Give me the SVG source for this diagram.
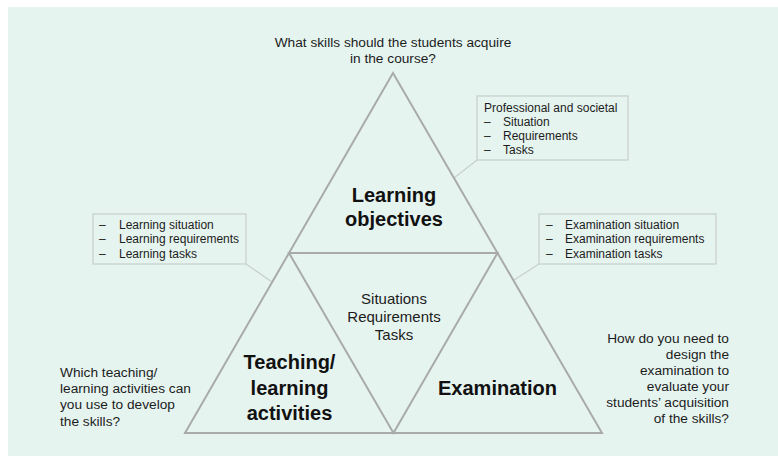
<svg xmlns="http://www.w3.org/2000/svg" width="778" height="456" viewBox="0 0 778 456">
  <style>
    text { font-family: "Liberation Sans", Arial, sans-serif; fill: #1c1c1c; }
    .q { font-size: 13.7px; }
    .box-text { font-size: 12px; }
    .mid { font-size: 15px; text-anchor: middle; }
    .title { font-size: 20px; font-weight: bold; text-anchor: middle; fill: #111; }
    .tri { fill: none; stroke: #a9abaa; stroke-width: 2; stroke-linejoin: miter; }
    .box { fill: #e6f4f0; stroke: #c6cecb; stroke-width: 1.2; }
    .link { stroke: #c6cecb; stroke-width: 1.1; fill: none; }
  </style>

  <!-- page -->
  <rect x="0" y="0" width="778" height="456" fill="#ffffff"/>
  <rect x="8" y="7" width="770" height="449" fill="#e6f4f0"/>

  <!-- guiding questions -->
  <g id="question-objectives">
    <text class="q" x="393" y="47" text-anchor="middle">What skills should the students acquire</text>
    <text class="q" x="393" y="63" text-anchor="middle">in the course?</text>
  </g>
  <g id="question-teaching">
    <text class="q" x="60" y="377">Which teaching/</text>
    <text class="q" x="60" y="393">learning activities can</text>
    <text class="q" x="60" y="409">you use to develop</text>
    <text class="q" x="60" y="426">the skills?</text>
  </g>
  <g id="question-examination" text-anchor="end">
    <text class="q" x="729" y="343">How do you need to</text>
    <text class="q" x="729" y="359">design the</text>
    <text class="q" x="729" y="375">examination to</text>
    <text class="q" x="729" y="391">evaluate your</text>
    <text class="q" x="729" y="407">students’ acquisition</text>
    <text class="q" x="729" y="423">of the skills?</text>
  </g>

  <!-- callout leader lines -->
  <g id="connectors">
    <line class="link" x1="477" y1="160" x2="454" y2="178"/>
    <line class="link" x1="246" y1="264" x2="272" y2="282"/>
    <line class="link" x1="539" y1="264" x2="514" y2="280"/>
  </g>

  <!-- triangle outline and inner split -->
  <g id="triangle">
    <polygon class="tri" points="393,73 185,433 602,433"/>
    <polygon class="tri" points="289,253 497.5,253 393.5,433"/>
  </g>

  <g id="learning-objectives">
    <text class="title" x="394" y="202">Learning</text>
    <text class="title" x="394" y="226">objectives</text>
  </g>
  <g id="centre">
    <text class="mid" x="394" y="304">Situations</text>
    <text class="mid" x="394" y="322">Requirements</text>
    <text class="mid" x="394" y="340">Tasks</text>
  </g>
  <g id="teaching-activities">
    <text class="title" x="289.5" y="369">Teaching/</text>
    <text class="title" x="289.5" y="394.5">learning</text>
    <text class="title" x="289.5" y="420">activities</text>
  </g>
  <g id="examination">
    <text class="title" x="497.5" y="395">Examination</text>
  </g>

  <!-- callout boxes -->
  <g id="box-professional">
    <rect class="box" x="477" y="96" width="151" height="64"/>
    <text class="box-text" x="484" y="112">Professional and societal</text>
    <text class="box-text" x="484" y="126">–</text>
    <text class="box-text" x="503" y="126">Situation</text>
    <text class="box-text" x="484" y="140">–</text>
    <text class="box-text" x="503" y="140">Requirements</text>
    <text class="box-text" x="484" y="154">–</text>
    <text class="box-text" x="503" y="154">Tasks</text>
  </g>
  <g id="box-learning">
    <rect class="box" x="93" y="214" width="153" height="50"/>
    <text class="box-text" x="99" y="229">–</text>
    <text class="box-text" x="119" y="229">Learning situation</text>
    <text class="box-text" x="99" y="243">–</text>
    <text class="box-text" x="119" y="243">Learning requirements</text>
    <text class="box-text" x="99" y="258">–</text>
    <text class="box-text" x="119" y="258">Learning tasks</text>
  </g>
  <g id="box-examination">
    <rect class="box" x="539" y="214" width="177" height="50"/>
    <text class="box-text" x="546" y="229">–</text>
    <text class="box-text" x="565" y="229">Examination situation</text>
    <text class="box-text" x="546" y="243">–</text>
    <text class="box-text" x="565" y="243">Examination requirements</text>
    <text class="box-text" x="546" y="258">–</text>
    <text class="box-text" x="565" y="258">Examination tasks</text>
  </g>
</svg>
